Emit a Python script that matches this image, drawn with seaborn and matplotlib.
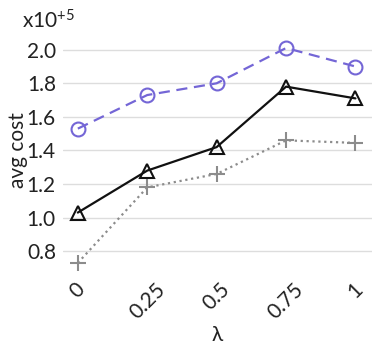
import pandas as pd
import matplotlib
matplotlib.use('Agg')
import matplotlib.pyplot as plt
import seaborn as sns

# data (values in units of 1e5)
lambdas = [0, 0.25, 0.5, 0.75, 1]
lambda_labels = ['0', '0.25', '0.5', '0.75', '1']
cost_purple = [1.53, 1.73, 1.80, 2.01, 1.90]
cost_black = [1.03, 1.28, 1.42, 1.78, 1.71]
cost_gray = [0.73, 1.18, 1.26, 1.46, 1.445]

sns.set_style('white')
plt.rcParams['font.family'] = ['Lato', 'DejaVu Sans']
plt.rcParams['mathtext.default'] = 'regular'

fig = plt.figure(figsize=(3.74, 3.54), dpi=100)
ax = fig.add_axes([0.168, 0.243, 0.827, 0.664])

sns.lineplot(x=lambdas, y=cost_purple, ax=ax, color='#7466d6', linestyle=(0, (5, 3)), lw=1.6,
             marker='o', markersize=10, markerfacecolor='none', markeredgecolor='#7466d6',
             markeredgewidth=1.5, clip_on=False)
sns.lineplot(x=lambdas, y=cost_black, ax=ax, color='#111111', linestyle='-', lw=1.6,
             marker='^', markersize=10, markerfacecolor='none', markeredgecolor='#111111',
             markeredgewidth=1.5, clip_on=False)
sns.lineplot(x=lambdas, y=cost_gray, ax=ax, color='#8c8c8c', linestyle=':', lw=1.6,
             marker='+', markersize=11, markeredgecolor='#8c8c8c',
             markeredgewidth=1.5, clip_on=False)

ax.set_xlim(-0.054, 1.06)
ax.set_ylim(0.7, 2.1)
ax.set_yticks([0.8, 1.0, 1.2, 1.4, 1.6, 1.8, 2.0])
ax.set_yticklabels(['0.8', '1.0', '1.2', '1.4', '1.6', '1.8', '2.0'])
ax.set_xticks(lambdas)
ax.set_xticklabels(lambda_labels, rotation=45)
ax.tick_params(axis='both', labelsize=15, length=0, labelcolor='#222222')
ax.tick_params(axis='x', pad=8)
ax.tick_params(axis='y', pad=5)
ax.yaxis.grid(True, color='#dddddd', lw=1)
ax.set_axisbelow(True)
for s in ax.spines.values():
    s.set_visible(False)

ax.set_ylabel('avg cost', fontsize=15, labelpad=-1, color='#222222')
ax.set_xlabel('λ', fontsize=15, labelpad=2, color='#222222')
ax.text(-0.133, 1.0, 'x10$^{+5}$', transform=ax.transAxes, fontsize=15,
        ha='left', va='bottom', color='#222222')

fig.savefig('out.png', dpi=100)
